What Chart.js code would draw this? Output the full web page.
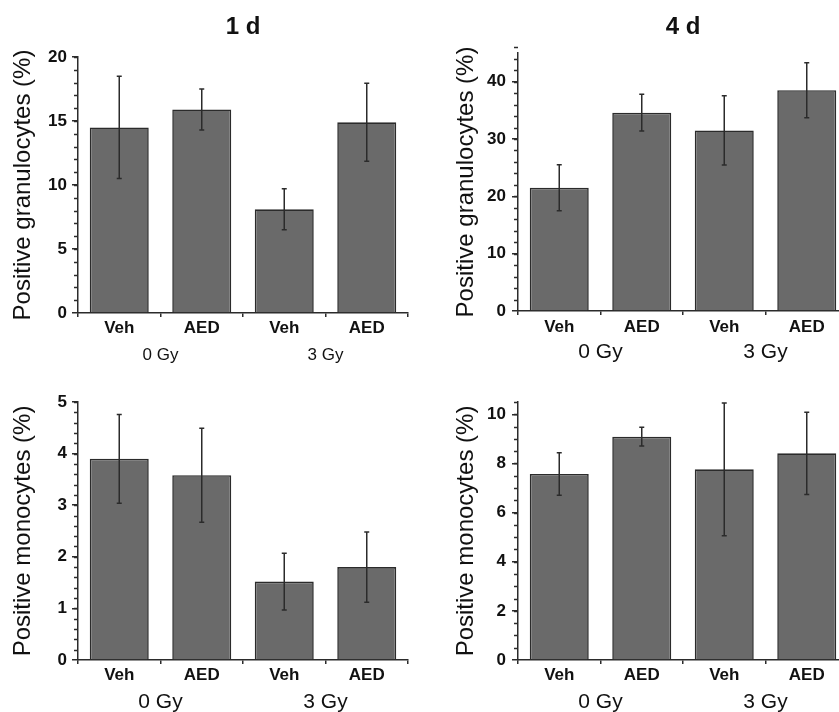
<!DOCTYPE html>
<html lang="en">
<head>
<meta charset="UTF-8" />
<title>Positive granulocytes / monocytes</title>
<script src="https://cdn.jsdelivr.net/npm/chart.js"></script>
<style>
    html, body {
        margin: 0;
        padding: 0;
        background: #ffffff;
        overflow: hidden;
        width: 839px;
        height: 712px;
    }
    canvas {
        position: absolute;
    }
</style>
</head>
<body>
<canvas id="gran1d" width="412" height="370" style="left:0;top:0"></canvas>
<canvas id="gran4d" width="432" height="370" style="left:420px;top:0"></canvas>
<canvas id="mono1d" width="412" height="342" style="left:0;top:370px"></canvas>
<canvas id="mono4d" width="432" height="342" style="left:420px;top:370px"></canvas>

<script>
    // data (mean and error, in %)
    const categories = ['Veh', 'AED', 'Veh', 'AED'];
    const doseGroups = ['0 Gy', '3 Gy'];

    const gran1dMean = [14.5, 15.9, 8.1, 14.9];
    const gran1dErr = [4.0, 1.6, 1.6, 3.05];
    const gran1dTicks = [0, 5, 10, 15, 20];

    const gran4dMean = [21.5, 34.6, 31.5, 38.5];
    const gran4dErr = [4.0, 3.2, 6.05, 4.8];
    const gran4dTicks = [0, 10, 20, 30, 40];

    const mono1dMean = [3.90, 3.58, 1.52, 1.80];
    const mono1dErr = [0.86, 0.91, 0.55, 0.68];
    const mono1dTicks = [0, 1, 2, 3, 4, 5];

    const mono4dMean = [7.57, 9.09, 7.76, 8.41];
    const mono4dErr = [0.86, 0.38, 2.70, 1.67];
    const mono4dTicks = [0, 2, 4, 6, 8, 10];

    Chart.defaults.font.family = "'Liberation Sans', Arial, sans-serif";
    Chart.defaults.color = '#111';

    const ink = '#2b2b2b';

    // error bars, drawn over the bars from the y scale
    const errorBars = {
        id: 'errorBars',
        afterDatasetsDraw(chart) {
            const ctx = chart.ctx;
            const y = chart.scales.y;
            const ds = chart.data.datasets[0];
            const meta = chart.getDatasetMeta(0);
            ctx.save();
            ctx.strokeStyle = ink;
            ctx.lineWidth = 1.5;
            meta.data.forEach((bar, i) => {
                const top = y.getPixelForValue(ds.data[i] + ds.err[i]);
                const bot = y.getPixelForValue(ds.data[i] - ds.err[i]);
                ctx.beginPath();
                ctx.moveTo(bar.x, top);
                ctx.lineTo(bar.x, bot);
                ctx.moveTo(bar.x - 2.5, top);
                ctx.lineTo(bar.x + 2.5, top);
                ctx.moveTo(bar.x - 2.5, bot);
                ctx.lineTo(bar.x + 2.5, bot);
                ctx.stroke();
            });
            ctx.restore();
        }
    };

    // minor ticks on the y axis
    const minorTicks = {
        id: 'minorTicks',
        afterDraw(chart, args, opts) {
            const ctx = chart.ctx;
            const y = chart.scales.y;
            const left = chart.chartArea.left;
            ctx.save();
            ctx.strokeStyle = ink;
            ctx.lineWidth = 1.5;
            const n = Math.round((y.max - y.min) / opts.step);
            for (let k = 1; k <= n; k++) {
                const v = y.min + k * opts.step;
                const py = Math.round(y.getPixelForValue(v)) + 0.5;
                ctx.beginPath();
                ctx.moveTo(left, py);
                ctx.lineTo(left - 4, py);
                ctx.stroke();
            }
            ctx.restore();
        }
    };

    function makeChart(id, p) {
        const ctx = document.getElementById(id).getContext('2d');
        return new Chart(ctx, {
            type: 'bar',
            data: {
                labels: categories,
                datasets: [{
                    data: p.mean,
                    err: p.err,
                    backgroundColor: '#6a6a6a',
                    borderColor: ink,
                    borderWidth: 1.6,
                    categoryPercentage: 1,
                    barPercentage: 0.715
                }]
            },
            options: {
                responsive: false,
                animation: false,
                layout: { padding: { top: p.padTop, right: 4, left: 0, bottom: 0 } },
                plugins: {
                    legend: { display: false },
                    tooltip: { enabled: false },
                    title: {
                        display: !!p.title,
                        text: p.title,
                        fullSize: false,
                        font: { size: 24, weight: 'bold' },
                        color: '#111',
                        padding: { top: 13, bottom: p.titleBottom }
                    },
                    minorTicks: { step: p.minor }
                },
                scales: {
                    x: {
                        grid: {
                            display: true,
                            drawOnChartArea: false,
                            drawTicks: true,
                            tickLength: 4,
                            color: ink,
                            lineWidth: 1.5,
                            offset: true
                        },
                        border: { display: true, color: ink, width: 1.5 },
                        ticks: { font: { size: 17, weight: 'bold' }, color: '#111', padding: p.xPad },
                        afterFit: s => { s.height = p.xH; }
                    },
                    x2: {
                        type: 'category',
                        labels: doseGroups,
                        position: 'bottom',
                        offset: true,
                        grid: { display: false, drawTicks: false },
                        border: { display: false },
                        ticks: { font: { size: p.doseSize }, color: '#111', padding: p.x2Pad },
                        afterFit: s => { s.height = p.x2H; }
                    },
                    y: {
                        min: 0,
                        max: p.max,
                        afterBuildTicks: s => { s.ticks = p.ticks.map(v => ({ value: v })); },
                        grid: {
                            drawOnChartArea: false,
                            tickLength: 6,
                            color: ink,
                            lineWidth: 1.5
                        },
                        border: { display: true, color: ink, width: 1.5 },
                        ticks: { font: { size: 17, weight: 'bold' }, color: '#111', padding: p.yPad },
                        title: {
                            display: true,
                            text: p.yTitle,
                            font: { size: 24 },
                            color: '#111',
                            padding: { top: p.yTitlePad, bottom: 0 }
                        },
                        afterFit: s => { s.width = p.yW; }
                    }
                }
            },
            plugins: [errorBars, minorTicks]
        });
    }

    makeChart('gran1d', {
        mean: gran1dMean, err: gran1dErr, ticks: gran1dTicks, max: 20, minor: 1,
        title: '1 d', titleBottom: 15.2, padTop: 0,
        yTitle: 'Positive granulocytes (%)', yW: 78, yPad: 5, yTitlePad: 9,
        xH: 30, xPad: 1, x2H: 27, x2Pad: 2, doseSize: 17
    });

    makeChart('gran4d', {
        mean: gran4dMean, err: gran4dErr, ticks: gran4dTicks, max: 45, minor: 2,
        title: '4 d', titleBottom: 11.2, padTop: 0,
        yTitle: 'Positive granulocytes (%)', yW: 98, yPad: 6, yTitlePad: 32,
        xH: 27, xPad: 2, x2H: 32, x2Pad: 1.4, doseSize: 21
    });

    makeChart('mono1d', {
        mean: mono1dMean, err: mono1dErr, ticks: mono1dTicks, max: 5, minor: 0.2,
        title: '', titleBottom: 0, padTop: 32,
        yTitle: 'Positive monocytes (%)', yW: 78, yPad: 5, yTitlePad: 9,
        xH: 29, xPad: 1, x2H: 23, x2Pad: 0.4, doseSize: 21
    });

    makeChart('mono4d', {
        mean: mono4dMean, err: mono4dErr, ticks: mono4dTicks, max: 10.5, minor: 0.5,
        title: '', titleBottom: 0, padTop: 32,
        yTitle: 'Positive monocytes (%)', yW: 98, yPad: 6, yTitlePad: 32,
        xH: 29, xPad: 1, x2H: 23, x2Pad: 0.4, doseSize: 21
    });
</script>
</body>
</html>
